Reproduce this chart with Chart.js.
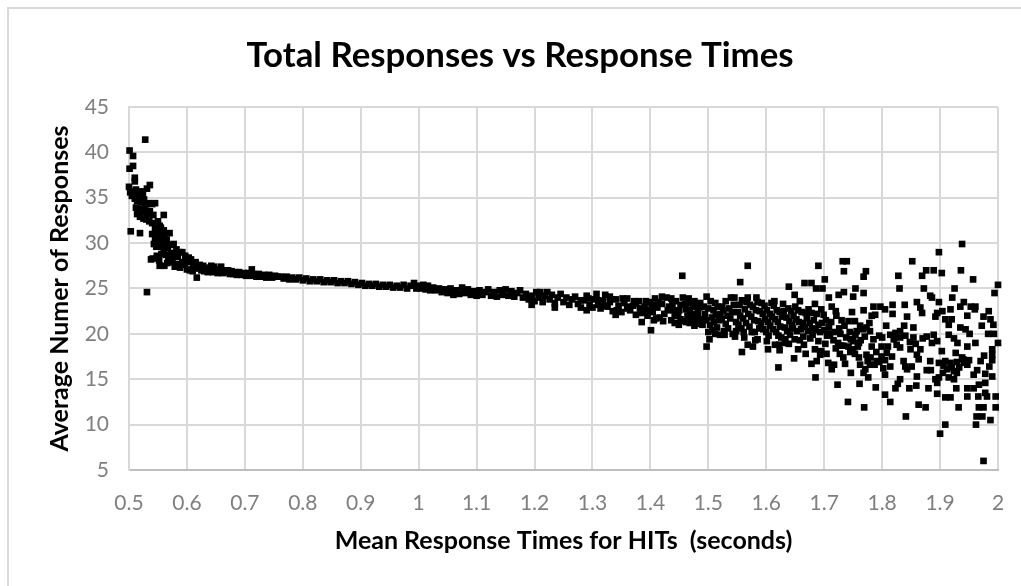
<!DOCTYPE html>
<html><head><meta charset="utf-8">
<style>
html,body{margin:0;padding:0;background:#fff;width:1021px;height:586px;overflow:hidden}
#frame{position:absolute;left:7px;top:7px;width:1014px;height:579px;border-left:2px solid #d9d9d9;border-top:2px solid #d9d9d9;box-sizing:border-box}
#wrap{position:absolute;left:0;top:0;width:1021px;height:586px}
canvas{filter:blur(0.4px)}
</style>
<script src="https://cdn.jsdelivr.net/npm/chart.js@4"></script>
</head><body>
<div id="frame"></div>
<div id="wrap"><canvas id="c" width="1021" height="586"></canvas></div>
<script>
const chartTitle = "Total Responses vs Response Times";
const xTitle = "Mean Response Times for HITs  (seconds)";
const yTitle = "Average Numer of Responses";

// [mean response time, average responses]
const headPoints = [[.528,41.4],[.531,24.6],[.501,40.2],[.507,39.6],[.507,38.5],[.501,38.2],[.51,37.2],[.51,36.8],[.5,36.2],[.536,36.4],[.531,36],[.503,31.3],[.519,31.1],[.56,33.1],
[.502,35.6],[.505,35.2],[.508,35.7],[.512,35.9],[.516,35.5],[.52,35.7],[.524,35.4],[.51,34.9],[.514,34.6],[.518,34.9],[.522,34.5],[.526,34.8],[.53,34.3],[.534,34.4],[.54,34.3],[.545,34.4],
[.512,33.9],[.516,33.5],[.52,33.8],[.524,33.4],[.528,33.9],[.532,33.2],[.536,33.5],[.542,33.1],[.514,33.2],[.519,32.9],[.525,32.7],[.53,32.6],[.535,32.4],[.54,32.2],[.55,32.4],[.553,31.9],
[.545,31.7],[.55,31.4],[.555,31.7],[.56,31.4],[.54,31],[.545,30.6],[.55,30.9],[.555,30.4],[.56,30.8],[.565,30.4],[.57,31.1],[.543,29.9],[.547,29.6],[.552,29.9],[.557,29.6],[.562,29.9],[.567,29.5],[.572,29.8],[.577,29.9],[.582,29.3],
[.538,28.2],[.541,28.3],[.548,28.6],[.552,28.1],[.556,28.8],[.56,29],[.564,28.7],[.568,28.4],[.572,28.9],[.576,28.6],[.58,28.9],[.584,28.5],[.588,29],[.592,29],[.597,28.6],[.553,27.5],[.561,27.5],[.566,27.8],[.571,28],[.575,27.9],[.579,27.4],[.584,27.7],[.588,27.3],[.592,27.9],[.596,27.6],[.6,27.9],[.603,28.4],[.607,28.2],[.611,27.7],[.615,27.9],[.6,27.1],[.605,27],[.61,26.9],[.613,27.4],[.617,26.2],[.62,27.2]];

const bandPoints = [[.622,27.6],[.625,27],[.628,27.5],[.63,26.9],[.633,27.3],[.636,26.8],[.639,27.2],[.642,27.5],[.645,26.8],[.647,27.4],[.65,27],[.653,26.7],[.656,27.1],[.659,27.4],[.662,26.7],[.665,27],[.668,26.8],[.671,27],[.674,26.6],[.677,26.9],[.68,26.6],[.683,26.8],[.686,26.5],[.69,26.8],[.694,26.5],[.698,26.7],[.702,26.4],[.706,26.7],[.71,26.4],[.712,27.1],[.715,26.6],[.72,26.3],[.724,26.6],[.728,26.3],[.733,26.5],[.737,26.2],[.742,26.5],[.747,26.2],[.752,26.4],[.757,26.3],[.762,26.3],[.767,26.1],[.772,26.3],[.777,26],[.782,26.2],[.788,26],[.794,26.2],[.8,25.9],[.806,26.1],[.812,25.8],[.818,26],[.824,25.8],[.83,26],[.836,25.7],[.842,25.9],[.848,25.7],[.854,25.9],[.86,25.6],[.866,25.8],[.872,25.6],[.878,25.8],[.884,25.5],[.89,25.7],[.896,25.4],[.902,25.6],[.908,25.3],[.914,25.5],[.92,25.3],[.926,25.5],[.932,25.2],[.938,25.4],[.944,25.2],[.95,25.4],[.956,25.1],[.962,25.3],[.968,25.1],[.974,25.4],[.98,25],[.986,25.3],[.992,25.6],[.996,25],[1,25.3],[1.004,25],[1.008,25.4],[1.012,24.9],[1.016,25.3],[1.02,24.8],[1.025,25.1],[1.03,24.8],[1.035,25],[1.04,24.6],[1.045,24.9],[1.05,24.5],[1.055,25],[1.06,24.5],[1.065,24.8],[1.07,24.4],[1.075,25.1],[1.08,24.5],[1.085,24.9],[1.09,24.3],[1.095,24.7],[1.1,24.2],[1.105,24.8],[1.11,24.3],[1.115,24.6],[1.12,24.9],[1.125,24.2],[1.13,24.6],[1.135,24.1],[1.14,24.8],[1.145,24.3],[1.15,24.9],[1.155,24.2],[1.16,24.7],[1.165,24.1],[1.17,24.5],[1.175,24.8],[1.18,24],[1.185,24.4],[1.19,23.8],[1.195,24.2],[1.2,23.6],[1.203,24.6],[1.207,24],[1.21,24.6],[1.214,23.5],[1.218,24.2],[1.222,24.6],[1.226,23.8],[1.23,24.3],[1.235,23.4],[1.24,24],[1.245,24.4],[1.25,23.5],[1.255,24],[1.26,23.2],[1.265,23.8],[1.27,24.1],[1.275,23.3],[1.28,22.9],[1.285,23.7],[1.29,24.2],[1.295,23.2],[1.3,22.9],[1.303,23.8],[1.307,24.4],[1.31,23.2],[1.314,22.8],[1.318,23.6],[1.322,24.3],[1.326,23],[1.33,23.5],[1.335,22.5],[1.34,23.8],[1.345,23.1],[1.35,22.4],[1.355,23.4],[1.36,23.9],[1.365,22.6],[1.37,23.1],[1.375,22.1],[1.38,23.6],[1.385,22.3],[1.39,23],[1.395,22],[1.398,23.5],[1.401,20.4],[1.404,22.4],[1.408,23.9],[1.412,22.9],[1.416,21.8],[1.42,23.3],[1.424,22.2],[1.428,24],[1.432,23],[1.436,21.5],[1.44,22.6],[1.444,23.6],[1.448,22],[1.452,23.2],[1.455,26.4],[1.458,21.4],[1.462,22.7],[1.466,23.9],[1.47,21.8],[1.474,23],[1.478,21.2],[1.482,22.3],[1.486,23.4],[1.49,21],[1.494,22.2],[1.497,24.1],[1.449,21],[1.462,21.3],[1.476,20.9],[1.41,21.7],[1.385,21.3],[1.34,22.1],[1.29,22.6],[1.235,22.9],[1.195,23.2],[1.06,24.3],
[1.28,23.7],[1.293,23.9],[1.31,23.7],[1.32,23.1],[1.33,24.1],[1.342,22.6],[1.352,23.9],[1.362,23],[1.372,23.6],[1.382,22.8],[1.392,23.6],[1.402,22.9],[1.406,21.5],[1.415,23.5],[1.422,21.4],[1.43,22.6],[1.438,23.3],[1.442,22],[1.45,22.6],[1.456,24],[1.46,23.3],[1.464,22],[1.468,22.6],[1.472,22.2],[1.476,23.6],[1.48,21.7],[1.484,22.9],[1.488,21.6],[1.492,23],[1.496,21.5],[1.452,21.6],[1.442,21.2],[1.468,21.2],[1.484,21.1],[1.47,23.4],[1.436,23.9],[1.42,24.1],[1.405,23.2],[1.395,22.6],[1.375,23.3],[1.36,22.8]];

const densePoints = [[1.497,18.6],[1.502,19.4],[1.5,20.2],[1.503,21],[1.506,21.8],[1.509,22.6],[1.512,23.4],[1.515,20.7],[1.518,21.5],[1.521,22.2],[1.524,23],[1.527,20.3],[1.53,21.1],[1.533,22],[1.536,22.8],[1.539,24],[1.542,20],[1.545,24],[1.548,21.3],[1.551,22.4],[1.554,23.2],[1.557,20.6],[1.56,21.7],[1.563,22.7],[1.566,23.5],[1.568,24],[1.571,20.8],[1.574,21.9],[1.577,23],[1.58,20.2],[1.583,24],[1.586,21.4],[1.589,22.5],[1.592,23.4],[1.595,20.5],[1.598,21.6],[1.601,22.6],[1.604,19.8],[1.607,20.9],[1.61,21.9],[1.613,23.1],[1.614,23.6],[1.617,20.2],[1.62,21.3],[1.623,22.4],[1.626,19.6],[1.629,23.3],[1.632,20.7],[1.635,21.8],[1.638,22.8],[1.641,19.9],[1.644,21],[1.647,22],[1.65,23],[1.653,20.3],[1.656,21.3],[1.658,23.6],[1.661,22.4],[1.664,19.7],[1.667,20.8],[1.67,21.7],[1.673,22.7],[1.676,19.5],[1.679,20.6],[1.682,21.5],[1.684,23.3],[1.687,22.2],[1.69,19.2],[1.693,20.2],[1.696,21.2],[1.699,22.1],[1.702,18.9],[1.705,19.8],[1.708,20.8],[1.713,23],[1.716,19.3],[1.719,20.2],[1.724,19],[1.728,20],[1.733,18.7],[1.738,19.6],[1.742,18.6],[1.746,19.4],[1.75,18.3],[1.754,19.9],[1.758,18.6],[1.763,19.3],[1.512,20],[1.528,19.9],[1.546,19.7],[1.562,19.6],[1.585,19.4],[1.601,19.2],[1.615,18.8],[1.639,18.9],[1.665,18.8],[1.708,20.7],[1.71,20],[1.767,20.5],
[1.5,22.8],[1.504,23.6],[1.507,20.4],[1.51,21.3],[1.513,22.1],[1.516,23],[1.52,19.9],[1.523,21.6],[1.526,22.6],[1.53,23.6],[1.534,20.6],[1.538,21.7],[1.541,22.4],[1.544,23.2],[1.548,20.3],[1.552,21],[1.555,22],[1.558,23.7],[1.561,20.2],[1.565,21.2],[1.569,22.2],[1.572,23.2],[1.575,20.2],[1.579,21.5],[1.582,22.6],[1.585,23.5],[1.588,20.6],[1.591,21.2],[1.594,22.2],[1.597,23.1],[1.6,20.2],[1.603,21.3],[1.606,22.2],[1.609,23.4],[1.612,20.5],[1.615,21.6],[1.618,22.6],[1.621,19.8],[1.624,20.8],[1.627,21.9],[1.63,22.5],[1.633,19.4],[1.636,20.3],[1.64,21.4],[1.643,22.5],[1.646,20.6],[1.649,19.4],[1.652,21.6],[1.655,22.6],[1.66,20.5],[1.663,21.2],[1.668,22.3],[1.672,20.3],[1.675,21.2],[1.678,22.3],[1.68,19.9],[1.685,20.4],[1.69,21],[1.695,22.7],[1.7,20.4],[1.703,21.5]];

const tailPoints = [[1.938,29.9],[1.898,29],[1.852,28],[1.732,28],[1.739,28],[1.69,27.5],[1.568,27.5],[1.734,26.9],[1.772,26.9],[1.768,26.3],[1.828,26.4],[1.876,27],[1.889,27],[1.903,26.7],[1.869,26.4],[1.936,27],[1.957,26],[2,25.4],[1.994,24.5],[1.555,25.7],[1.639,25.2],[1.666,25.6],[1.678,25.6],[1.686,25],[1.697,25],[1.701,26],[1.83,25],[1.872,25],[1.925,25],[1.754,25],[1.768,24.5],[1.734,24.6],[1.725,24.3],[1.75,24.1],[1.708,24],[1.649,24.3],[1.883,24.2],[1.886,24],[1.921,24],[1.898,23.5],[1.941,23.5],[1.935,23],[1.953,23],[1.961,23],[1.947,22],[1.96,22.7],[1.86,23.5],[1.866,22.9],[1.869,22.3],[1.839,23.2],[1.818,23.2],[1.818,22.2],[1.785,23],[1.797,23],[1.805,22.7],[1.768,22.6],[1.782,22],[1.788,22.1],[1.895,22.3],[1.892,21.9],[1.904,22.5],[1.918,22.7],[1.909,21.6],[1.92,21.6],[1.915,21],[1.984,22.5],[1.975,21.9],[1.987,21.6],[1.992,21],[1.972,20.9],[1.843,21.9],[1.748,22.4],[1.72,22.5],[1.721,22],[1.73,21.5],[1.742,21.4],[1.753,21.4],[1.807,20.9],[1.838,20.9],[1.854,20.7],[1.773,20.7],[1.779,20.3],[1.756,20.3],[1.935,20.7],[1.944,20.5],[1.951,20],[1.915,19.9],[1.924,19.5],[1.93,19],
[1.983,20],[1.993,20],[2,19],[1.99,18.3],[1.99,17.7],[1.976,17.6],[1.99,17.1],[1.97,17],[1.985,16.4],[1.964,16],[1.978,15.6],[1.99,15.3],[1.958,15.5],[1.967,14.4],[1.978,14.6],[1.947,14],[1.958,14],[1.978,13.5],[1.981,13.1],[1.996,13.1],[1.947,13.1],[1.966,13.1],[1.967,11.9],[1.975,11.9],[1.996,11.9],[1.963,10.9],[1.973,10.9],[1.987,10.5],[1.962,10],[1.909,10],[1.9,9],[1.975,6],
[1.932,11.9],[1.909,13],[1.918,13],[1.895,13.4],[1.928,14],[1.88,14],[1.895,14.6],[1.892,15],[1.898,15.2],[1.859,14.3],[1.847,14],[1.831,15],[1.827,14.5],[1.823,14],[1.863,12.2],[1.875,11.9],[1.841,10.9],[1.814,12.5],[1.805,13.3],[1.789,14.1],[1.761,14.5],[1.776,15.2],[1.805,15.5],[1.769,11.9],[1.741,12.5],[1.723,14.4],[1.746,15.7],[1.685,15.2],[1.621,16.3],[1.648,17.3],[1.558,18],[1.603,18.3],[1.568,18.8],[1.577,18.6],[1.581,19.3],[1.623,18.2],[1.622,18.8],[1.632,19],[1.655,18.3],[1.658,19.3],[1.668,17.8],[1.678,16.7],[1.687,17],[1.707,16.8],[1.717,16.6],[1.713,16.1],[1.684,18.3],[1.695,18.1],[1.704,17.8],[1.727,17.8],[1.733,17.4],[1.736,16.7],
[1.762,16.6],[1.771,16.1],[1.779,16.6],[1.791,17],[1.799,17.5],[1.808,17.9],[1.817,17.5],[1.773,17.7],[1.782,18.6],[1.799,18.6],[1.831,18.5],[1.837,17],[1.843,16.1],[1.851,16.4],[1.814,16.4],[1.768,15.7],[1.849,18.3],[1.86,17.7],[1.866,18.3],[1.863,17.2],[1.883,17],[1.898,16.8],[1.877,16],[1.884,16],[1.86,15.3],[1.84,16.4],[1.909,17],[1.918,16.8],[1.929,16.9],[1.938,17.4],[1.947,16.6],[1.912,16.1],[1.924,15.9],[1.929,15.7],[1.915,15.2],[1.924,15],[1.903,18.1],[1.927,17.9],[1.947,18.6],[1.961,19],[1.886,19],[1.877,19.7],[1.889,19.9],[1.854,19.6],[1.831,19.6],[1.814,19.9],[1.823,20.1],[1.831,20.3],
[1.77,19.7],[1.76,19],[1.785,19.4],[1.795,19.8],[1.84,19.8],[1.848,19.1],[1.858,18.9],[1.87,19.5],[1.895,19.2],[1.775,17],[1.787,16.6],[1.795,16.9],[1.805,17.1],[1.753,17.8],[1.745,18],[1.82,19.4],[1.906,16.5],[1.933,16.3],[1.941,16.8],[1.92,16.3],[1.905,15.7],[1.94,17.2],[1.95,17.1],[1.75,19.2],[1.72,18.4],[1.728,18.7],[1.693,17.7],
[1.712,21.3],[1.726,20.6],[1.735,20.9],[1.744,20.2],[1.762,20.9],[1.778,21.2],[1.8,19.6],[1.81,18.6],[1.825,18.8],[1.79,18],[1.76,17.4],[1.78,17.4],[1.802,16.2]];

const markers = [...headPoints, ...bandPoints, ...densePoints, ...tailPoints].map(p => ({x:p[0], y:p[1]}));
const xMin = 0.5, xMax = 2, xStep = 0.1;
const yMin = 5, yMax = 45, yStep = 5;
const FONT = "Lato, 'Open Sans', sans-serif";

new Chart(document.getElementById('c'), {
  type: 'scatter',
  data: { datasets: [{ data: markers, pointStyle: 'rect', pointRadius: 4.7, pointHoverRadius: 4.7,
    backgroundColor: '#000', borderColor: '#000', borderWidth: 0, clip: false }] },
  options: {
    responsive: false, animation: false,
    layout: { padding: { left: 42, right: 23, top: 0, bottom: 30 } },
    plugins: {
      legend: { display: false }, tooltip: { enabled: false },
      title: { display: true, text: chartTitle, color: '#000',
        font: { family: FONT, size: 34.8, weight: 'bold', lineHeight: 1.2 },
        padding: { top: 35, bottom: 30.2 } }
    },
    scales: {
      x: { type: 'linear', min: xMin, max: xMax,
        afterFit: s => { s.height = 86; s.paddingRight = 0; },
        grid: { color: '#d9d9d9', lineWidth: 2, drawTicks: false },
        border: { color: '#bfbfbf', width: 2 },
        ticks: { stepSize: xStep, padding: 21, color: '#7f7f7f', maxRotation: 0, autoSkip: false,
          font: { family: FONT, size: 21 },
          callback: v => String(Number(v.toFixed(1))) },
        title: { display: true, text: xTitle, color: '#000', padding: { top: 10, bottom: 0 },
          font: { family: FONT, size: 25, weight: 'bold' } } },
      y: { min: yMin, max: yMax,
        afterFit: s => { s.width = 87; },
        grid: { color: '#d9d9d9', lineWidth: 2, drawTicks: false },
        border: { color: '#d9d9d9', width: 2 },
        ticks: { stepSize: yStep, padding: 20, color: '#7f7f7f', font: { family: FONT, size: 21 } },
        title: { display: true, text: yTitle, color: '#000', padding: { top: 3, bottom: 0 },
          font: { family: FONT, size: 25, weight: 'bold' } } }
    }
  }
});
</script>
</body></html>
